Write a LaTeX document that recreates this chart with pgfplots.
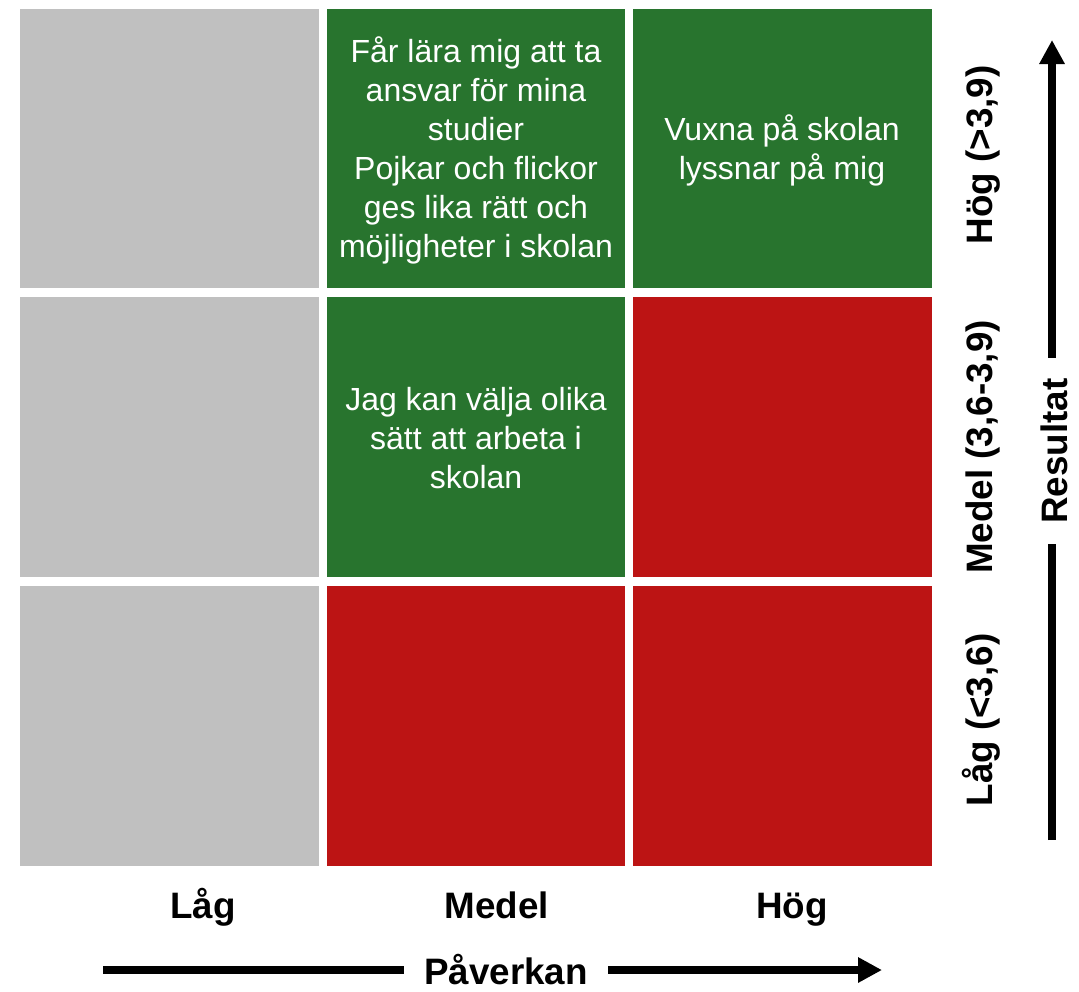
\documentclass[border=0pt]{standalone}
\usepackage{pgfplots}
\pgfplotsset{compat=1.18}
\usepackage{fontspec}
\setmainfont{Liberation Sans}
\usetikzlibrary{arrows.meta}

\definecolor{cgray}{RGB}{192,192,192}
\definecolor{cgreen}{RGB}{40,116,46}
\definecolor{cred}{RGB}{188,20,20}

% one cell of the matrix: colour, x0, y0, x1, y1
\newcommand\cell[5]{\addplot[fill=#1, draw=none] coordinates {(#2,#3) (#4,#3) (#4,#5) (#2,#5)} -- cycle;}

\begin{document}
\begin{tikzpicture}
\begin{axis}[
    scale only axis, width=539.5pt, height=493pt,
    xmin=0, xmax=1079, ymin=0, ymax=986, y dir=reverse,
    hide axis, clip=false,
]
% row Hög
\cell{cgray}{20}{9}{319}{288}
\cell{cgreen}{327}{9}{625}{288}
\cell{cgreen}{633}{9}{932}{288}
% row Medel
\cell{cgray}{20}{297}{319}{577}
\cell{cgreen}{327}{297}{625}{577}
\cell{cred}{633}{297}{932}{577}
% row Låg
\cell{cgray}{20}{586}{319}{866}
\cell{cred}{327}{586}{625}{866}
\cell{cred}{633}{586}{932}{866}

\tikzset{celltext/.style={white, align=center, font=\fontsize{16}{19.5}\selectfont},
         lab/.style={font=\fontsize{18.4}{22}\selectfont\bfseries}}

\node[celltext] at (axis cs:476,150) {Får lära mig att ta\\ansvar för mina\\studier\\Pojkar och flickor\\ges lika rätt och\\möjligheter i skolan};
\node[celltext] at (axis cs:782,150) {Vuxna på skolan\\lyssnar på mig};
\node[celltext] at (axis cs:476,438) {Jag kan välja olika\\sätt att arbeta i\\skolan};

\node[lab, anchor=base] at (axis cs:203,918) {Låg};
\node[lab, anchor=base] at (axis cs:497,918) {Medel};
\node[lab, anchor=base] at (axis cs:792,918) {Hög};

\node[lab, rotate=90, anchor=base] at (axis cs:992,155) {Hög (>3,9)};
\node[lab, rotate=90, anchor=base] at (axis cs:992,447) {Medel (3,6-3,9)};
\node[lab, rotate=90, anchor=base] at (axis cs:992,720) {Låg (<3,6)};

\draw[line width=4pt, -{Triangle[length=12pt,width=12pt]}] (axis cs:1052,840) -- (axis cs:1052,40);
\draw[line width=4pt, -{Triangle[length=12pt,width=12pt]}] (axis cs:103,970) -- (axis cs:882,970);
\node[lab, rotate=90, fill=white, inner xsep=10pt] at (axis cs:1054,451) {Resultat};
\node[lab, fill=white, inner xsep=10pt] at (axis cs:506,970) {Påverkan};
\end{axis}
\path (current axis.south west) rectangle (current axis.north east);
\end{tikzpicture}
\end{document}
